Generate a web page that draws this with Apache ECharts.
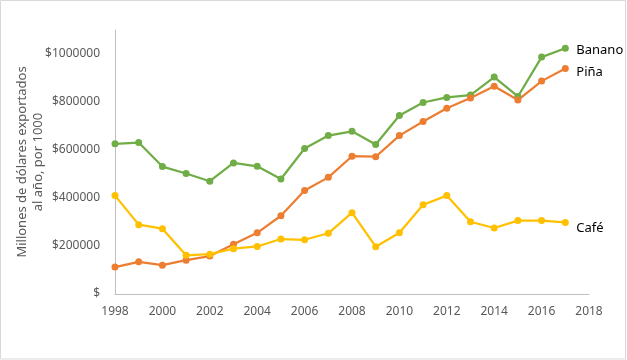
<!DOCTYPE html>
<html>
<head>
<meta charset="utf-8">
<script src="https://cdn.jsdelivr.net/npm/echarts@6/dist/echarts.min.js"></script>
<style>
  html, body { margin: 0; padding: 0; background: #fff; }
  #chart { width: 627px; height: 360px; }
</style>
</head>
<body>
<div id="chart"></div>
<script>
const years = [1998, 1999, 2000, 2001, 2002, 2003, 2004, 2005, 2006, 2007,
               2008, 2009, 2010, 2011, 2012, 2013, 2014, 2015, 2016, 2017];

const banano = [626000, 631000, 531000, 502000, 470000, 546000, 532000, 479000, 606000, 660000,
                678000, 623000, 744000, 798000, 819000, 829000, 904000, 823000, 987000, 1024000];
const pina = [112000, 134000, 120000, 141000, 158000, 207000, 255000, 326000, 431000, 486000,
              574000, 572000, 660000, 719000, 774000, 817000, 866000, 808000, 887000, 940000];
const cafe = [410000, 289000, 272000, 161000, 166000, 189000, 198000, 229000, 226000, 253000,
              339000, 197000, 255000, 372000, 410000, 301000, 275000, 306000, 306000, 298000];

const seriesNames = ['Banano', 'Piña', 'Café'];
const yTitle = 'Millones de dólares exportados\nal año, por 1000';

const font = '"Noto Sans", sans-serif';

function pairs(vals) {
  return years.map((y, i) => [y, vals[i]]);
}

function line(name, vals, color, dy) {
  return {
    name: name,
    type: 'line',
    data: pairs(vals),
    symbol: 'circle',
    symbolSize: 7,
    lineStyle: { width: 2.25, color: color },
    itemStyle: { color: color },
    endLabel: {
      show: true,
      formatter: '{a}',
      distance: 11,
      offset: [0, dy],
      color: '#000',
      fontFamily: font,
      fontSize: 13
    },
    animation: false
  };
}

const chart = echarts.init(document.getElementById('chart'));
chart.setOption({
  animation: false,
  grid: { left: 115, right: 38, top: 30, bottom: 66, outerBoundsMode: 'none', containLabel: false },
  graphic: [{
    type: 'rect',
    shape: { x: 0.5, y: 0.5, width: 625, height: 358.5 },
    style: { fill: 'none', stroke: '#d9d9d9', lineWidth: 1 },
    silent: true
  }],
  xAxis: {
    type: 'value',
    min: 1998,
    max: 2018,
    interval: 2,
    axisLine: { lineStyle: { color: '#bfbfbf' } },
    axisTick: { show: false },
    splitLine: { show: false },
    axisLabel: {
      color: '#595959',
      fontFamily: font,
      fontSize: 12,
      margin: 12,
      formatter: v => String(v)
    }
  },
  yAxis: {
    type: 'value',
    min: 0,
    max: 1100000,
    interval: 200000,
    name: yTitle,
    nameLocation: 'middle',
    nameRotate: 90,
    nameGap: 69,
    nameMoveOverlap: false,
    nameTextStyle: { color: '#595959', fontFamily: font, fontSize: 13, lineHeight: 16 },
    axisLine: { show: true, lineStyle: { color: '#bfbfbf' } },
    axisTick: { show: false },
    splitLine: { show: false },
    axisLabel: {
      color: '#595959',
      fontFamily: font,
      fontSize: 12,
      margin: 15,
      showMaxLabel: false,
      formatter: v => (v === 0 ? '$' : '$' + v)
    }
  },
  series: [
    line(seriesNames[0], banano, '#70ad47', 2),
    line(seriesNames[1], pina, '#ed7d31', 4),
    line(seriesNames[2], cafe, '#ffc000', 6)
  ]
});
</script>
</body>
</html>
